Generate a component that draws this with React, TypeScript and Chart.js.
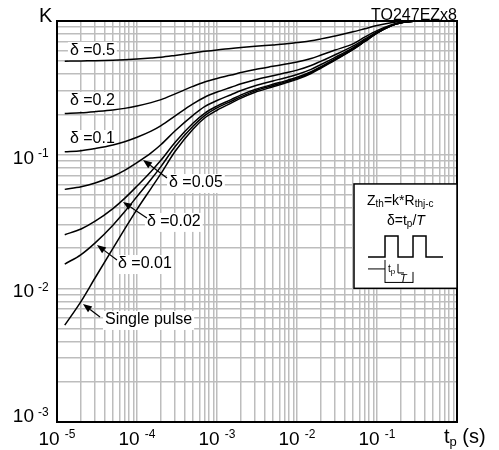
import React, { useEffect, useRef } from "react";
import { Chart, registerables } from "chart.js";

Chart.register(...registerables);

const FONT = '"Liberation Sans", Arial, Helvetica, sans-serif';

// pulse duration tp (s)
const tp = [1.25e-5, 2e-5, 3e-5, 5e-5, 7e-5, 1e-4, 1.5e-4, 2e-4, 3e-4, 5e-4, 7e-4, 1e-3, 1.5e-3, 2e-3, 3e-3, 5e-3, 7e-3, 1e-2, 1.5e-2, 2e-2, 3e-2, 5e-2, 7e-2, 0.1, 0.15, 0.2, 0.3];

// K values
const kD05 = [0.500, 0.503, 0.505, 0.509, 0.513, 0.519, 0.528, 0.536, 0.553, 0.577, 0.593, 0.608, 0.622, 0.633, 0.647, 0.662, 0.673, 0.690, 0.712, 0.735, 0.772, 0.830, 0.875, 0.925, 0.970, 0.990, 1.000];
const kD02 = [0.203, 0.206, 0.210, 0.216, 0.222, 0.231, 0.245, 0.258, 0.285, 0.324, 0.350, 0.372, 0.394, 0.412, 0.434, 0.458, 0.474, 0.493, 0.524, 0.556, 0.606, 0.675, 0.757, 0.848, 0.936, 0.976, 1.000];
const kD01 = [0.105, 0.107, 0.111, 0.118, 0.125, 0.135, 0.150, 0.165, 0.195, 0.240, 0.269, 0.294, 0.319, 0.339, 0.364, 0.390, 0.408, 0.429, 0.465, 0.501, 0.559, 0.649, 0.730, 0.829, 0.928, 0.973, 1.000];
const kD005 = [0.055, 0.0576, 0.0614, 0.0689, 0.0763, 0.0871, 0.103, 0.119, 0.151, 0.197, 0.229, 0.254, 0.281, 0.302, 0.328, 0.356, 0.375, 0.398, 0.435, 0.473, 0.535, 0.630, 0.715, 0.820, 0.924, 0.972, 1.000];
const kD002 = [0.0252, 0.0278, 0.0318, 0.0395, 0.0471, 0.0582, 0.0749, 0.0911, 0.124, 0.172, 0.204, 0.231, 0.258, 0.280, 0.307, 0.336, 0.355, 0.379, 0.417, 0.456, 0.520, 0.618, 0.706, 0.814, 0.922, 0.971, 1.000];
const kD001 = [0.0152, 0.0179, 0.0219, 0.0297, 0.0374, 0.0486, 0.0654, 0.0818, 0.115, 0.163, 0.196, 0.224, 0.251, 0.272, 0.300, 0.329, 0.349, 0.372, 0.411, 0.451, 0.515, 0.614, 0.703, 0.812, 0.921, 0.970, 1.000];
const kSingle = [0.0053, 0.0080, 0.0120, 0.0199, 0.0277, 0.0390, 0.0560, 0.0725, 0.106, 0.155, 0.188, 0.215, 0.243, 0.265, 0.293, 0.322, 0.342, 0.366, 0.405, 0.445, 0.510, 0.610, 0.700, 0.810, 0.920, 0.970, 1.000];

const seriesNames = ["δ =0.5", "δ =0.2", "δ =0.1", "δ =0.05", "δ =0.02", "δ =0.01", "Single pulse"];
const seriesValues = [kD05, kD02, kD01, kD005, kD002, kD001, kSingle];

// tick label exponents
const xTickExps = [-5, -4, -3, -2, -1];
const yTickExps = [-3, -2, -1];

// curve labels (left edge / vertical centre, data coords)
const curveLabels = [
  { text: "δ =0.5", t: 1.45e-5, k: 0.597 },
  { text: "δ =0.2", t: 1.45e-5, k: 0.252 },
  { text: "δ =0.1", t: 1.45e-5, k: 0.131 },
  { text: "δ =0.05", t: 2.51e-4, k: 0.0614 },
  { text: "δ =0.02", t: 1.33e-4, k: 0.0314 },
  { text: "δ =0.01", t: 5.79e-5, k: 0.0152 },
  { text: "Single pulse", t: 3.98e-5, k: 0.0058 },
];

// arrows (from label to curve)
const arrows = [
  { fromT: 2.37e-4, fromK: 0.067, toT: 1.19e-4, toK: 0.0913 },
  { fromT: 1.33e-4, fromK: 0.0336, toT: 6.68e-5, toK: 0.0443 },
  { fromT: 5.62e-5, fromK: 0.0163, toT: 3.16e-5, toK: 0.0211 },
  { fromT: 3.45e-5, fromK: 0.00611, toT: 2.11e-5, toK: 0.00764 },
];

const infoBox = { tLeft: 0.0516, kTop: 0.0604, kBottom: 0.01 };

function logGrid(minExp: number, maxExp: number) {
  const out: number[] = [];
  for (let e = minExp; e < maxExp; e++) {
    for (let m = 1; m < 10; m++) out.push(parseFloat((m * Math.pow(10, e)).toPrecision(6)));
  }
  out.push(Math.pow(10, maxExp));
  return out;
}

type Run = { text: string; size: number; dy?: number; italic?: boolean };
function drawRuns(ctx: CanvasRenderingContext2D, x: number, y: number, runs: Run[]) {
  for (const r of runs) {
    ctx.font = `${r.italic ? "italic " : ""}${r.size}px ${FONT}`;
    ctx.fillText(r.text, x, y + (r.dy || 0));
    x += ctx.measureText(r.text).width;
  }
  return x;
}
function runsWidth(ctx: CanvasRenderingContext2D, runs: Run[]) {
  let w = 0;
  for (const r of runs) {
    ctx.font = `${r.italic ? "italic " : ""}${r.size}px ${FONT}`;
    w += ctx.measureText(r.text).width;
  }
  return w;
}
function line(ctx: CanvasRenderingContext2D, x1: number, y1: number, x2: number, y2: number) {
  ctx.beginPath();
  ctx.moveTo(x1, y1);
  ctx.lineTo(x2, y2);
  ctx.stroke();
}

const decorPlugin = {
  id: "decor",
  beforeDatasetsDraw(chart: any) {
    const { ctx } = chart;
    const xs = chart.scales.x;
    const ys = chart.scales.y;
    ctx.save();
    ctx.textBaseline = "middle";
    ctx.font = `16px ${FONT}`;
    for (const l of curveLabels) {
      const px = xs.getPixelForValue(l.t);
      const py = ys.getPixelForValue(l.k);
      const w = ctx.measureText(l.text).width;
      ctx.fillStyle = "#fff";
      ctx.fillRect(px - 2, py - 9, w + 4, 19);
      ctx.fillStyle = "#000";
      ctx.fillText(l.text, px, py);
    }
    ctx.strokeStyle = "#000";
    ctx.fillStyle = "#000";
    ctx.lineWidth = 1.2;
    for (const a of arrows) {
      const x1 = xs.getPixelForValue(a.fromT);
      const y1 = ys.getPixelForValue(a.fromK);
      const x2 = xs.getPixelForValue(a.toT);
      const y2 = ys.getPixelForValue(a.toK);
      const ang = Math.atan2(y2 - y1, x2 - x1);
      const hl = 9, hw = 3.5;
      const bx = x2 - hl * Math.cos(ang);
      const by = y2 - hl * Math.sin(ang);
      line(ctx, x1, y1, bx, by);
      ctx.beginPath();
      ctx.moveTo(x2, y2);
      ctx.lineTo(bx + hw * Math.sin(ang), by - hw * Math.cos(ang));
      ctx.lineTo(bx - hw * Math.sin(ang), by + hw * Math.cos(ang));
      ctx.closePath();
      ctx.fill();
    }
    ctx.restore();
  },
  afterDraw(chart: any) {
    const { ctx, chartArea } = chart;
    const xs = chart.scales.x;
    const ys = chart.scales.y;
    ctx.save();
    // frame
    ctx.strokeStyle = "#000";
    ctx.lineWidth = 2;
    ctx.strokeRect(chartArea.left, chartArea.top, chartArea.right - chartArea.left, chartArea.bottom - chartArea.top);

    ctx.fillStyle = "#000";
    ctx.textBaseline = "alphabetic";
    // x tick labels
    for (const e of xTickExps) {
      const px = xs.getPixelForValue(Math.pow(10, e));
      const runs: Run[] = [{ text: "10 ", size: 19 }, { text: String(e), size: 12, dy: -7 }];
      const w = runsWidth(ctx, runs);
      drawRuns(ctx, px - w / 2, chartArea.bottom + 23, runs);
    }
    // y tick labels
    for (const e of yTickExps) {
      const py = ys.getPixelForValue(Math.pow(10, e));
      const shift = Math.abs(py - chartArea.bottom) < 2 ? -9 : 0;
      ctx.font = `19px ${FONT}`;
      const w10 = ctx.measureText("10").width;
      drawRuns(ctx, 34 - w10, py + 9 + shift, [{ text: "10", size: 19 }]);
      drawRuns(ctx, 38, py + 2.5 + shift, [{ text: String(e), size: 12 }]);
    }
    // axis titles
    drawRuns(ctx, 39, 22, [{ text: "K", size: 20 }]);
    drawRuns(ctx, 444, chartArea.bottom + 21, [
      { text: "t", size: 20 },
      { text: "p", size: 13, dy: 3 },
      { text: " (s)", size: 20 },
    ]);
    // title
    ctx.font = `16px ${FONT}`;
    ctx.textAlign = "right";
    ctx.fillText("TO247EZx8", chartArea.right, chartArea.top - 1);
    ctx.textAlign = "left";

    // info box
    const bx = xs.getPixelForValue(infoBox.tLeft);
    const by = ys.getPixelForValue(infoBox.kTop);
    const bw = chartArea.right - bx;
    const bh = ys.getPixelForValue(infoBox.kBottom) - by;
    ctx.fillStyle = "#fff";
    ctx.fillRect(bx, by, bw, bh);
    ctx.strokeStyle = "#000";
    ctx.lineWidth = 1.5;
    ctx.strokeRect(bx, by, bw, bh);
    ctx.fillStyle = "#000";
    drawRuns(ctx, bx + 13, by + 21, [
      { text: "Z", size: 14 },
      { text: "th", size: 10, dy: 2 },
      { text: "=k*R", size: 14 },
      { text: "thj-c", size: 10, dy: 2 },
    ]);
    drawRuns(ctx, bx + 33, by + 41, [
      { text: "δ=t", size: 14 },
      { text: "p", size: 10, dy: 2 },
      { text: "/", size: 14 },
      { text: "T", size: 14, italic: true },
    ]);
    // pulse train
    ctx.lineWidth = 1.5;
    ctx.beginPath();
    ctx.moveTo(bx + 14, by + 73);
    ctx.lineTo(bx + 31, by + 73);
    ctx.lineTo(bx + 31, by + 52);
    ctx.lineTo(bx + 44, by + 52);
    ctx.lineTo(bx + 44, by + 73);
    ctx.lineTo(bx + 59, by + 73);
    ctx.lineTo(bx + 59, by + 52);
    ctx.lineTo(bx + 72, by + 52);
    ctx.lineTo(bx + 72, by + 73);
    ctx.lineTo(bx + 89, by + 73);
    ctx.stroke();
    // dimensions
    ctx.lineWidth = 1;
    line(ctx, bx + 14, by + 85, bx + 31, by + 85);
    line(ctx, bx + 31, by + 76, bx + 31, by + 99);
    drawRuns(ctx, bx + 34, by + 88, [{ text: "t", size: 10 }, { text: "p", size: 8, dy: 2 }]);
    line(ctx, bx + 44, by + 80, bx + 44, by + 89);
    line(ctx, bx + 44, by + 89, bx + 50, by + 89);
    drawRuns(ctx, bx + 46, by + 98, [{ text: "T", size: 11, italic: true }]);
    line(ctx, bx + 31, by + 98.5, bx + 59, by + 98.5);
    line(ctx, bx + 59, by + 88, bx + 59, by + 99);
    ctx.restore();
  },
};

export default function App() {
  const ref = useRef<HTMLCanvasElement | null>(null);
  useEffect(() => {
    if (!ref.current) return;
    const gridOpts = { color: "#bdbdbd", lineWidth: 1.5, drawTicks: false };
    const chart = new Chart(ref.current, {
      type: "line",
      data: {
        datasets: seriesValues.map((vals, i) => ({
          label: seriesNames[i],
          data: tp.map((t, j) => ({ x: t, y: vals[j] })),
          borderColor: "#000",
          borderWidth: 1.5,
          pointRadius: 0,
          fill: false,
          cubicInterpolationMode: "monotone" as const,
        })),
      },
      options: {
        responsive: false,
        animation: false,
        events: [],
        layout: { padding: { left: 57, right: 42, top: 21, bottom: 28 } },
        plugins: { legend: { display: false }, tooltip: { enabled: false } },
        scales: {
          x: {
            type: "logarithmic",
            min: 1e-5,
            max: 1,
            ticks: { display: false },
            grid: gridOpts,
            border: { display: true, color: "#000", width: 2 },
            afterBuildTicks: (s: any) => {
              s.ticks = logGrid(-5, 0).map((v) => ({ value: v }));
            },
          },
          y: {
            type: "logarithmic",
            min: 1e-3,
            max: 1,
            ticks: { display: false },
            grid: gridOpts,
            border: { display: true, color: "#000", width: 2 },
            afterBuildTicks: (s: any) => {
              s.ticks = logGrid(-3, 0).map((v) => ({ value: v }));
            },
          },
        },
      } as any,
      plugins: [decorPlugin],
    });
    return () => chart.destroy();
  }, []);
  return (
    <div style={{ position: "absolute", left: 0, top: 0, width: 499, height: 450, background: "#fff" }}>
      <canvas ref={ref} width={499} height={450} style={{ display: "block" }} />
    </div>
  );
}
